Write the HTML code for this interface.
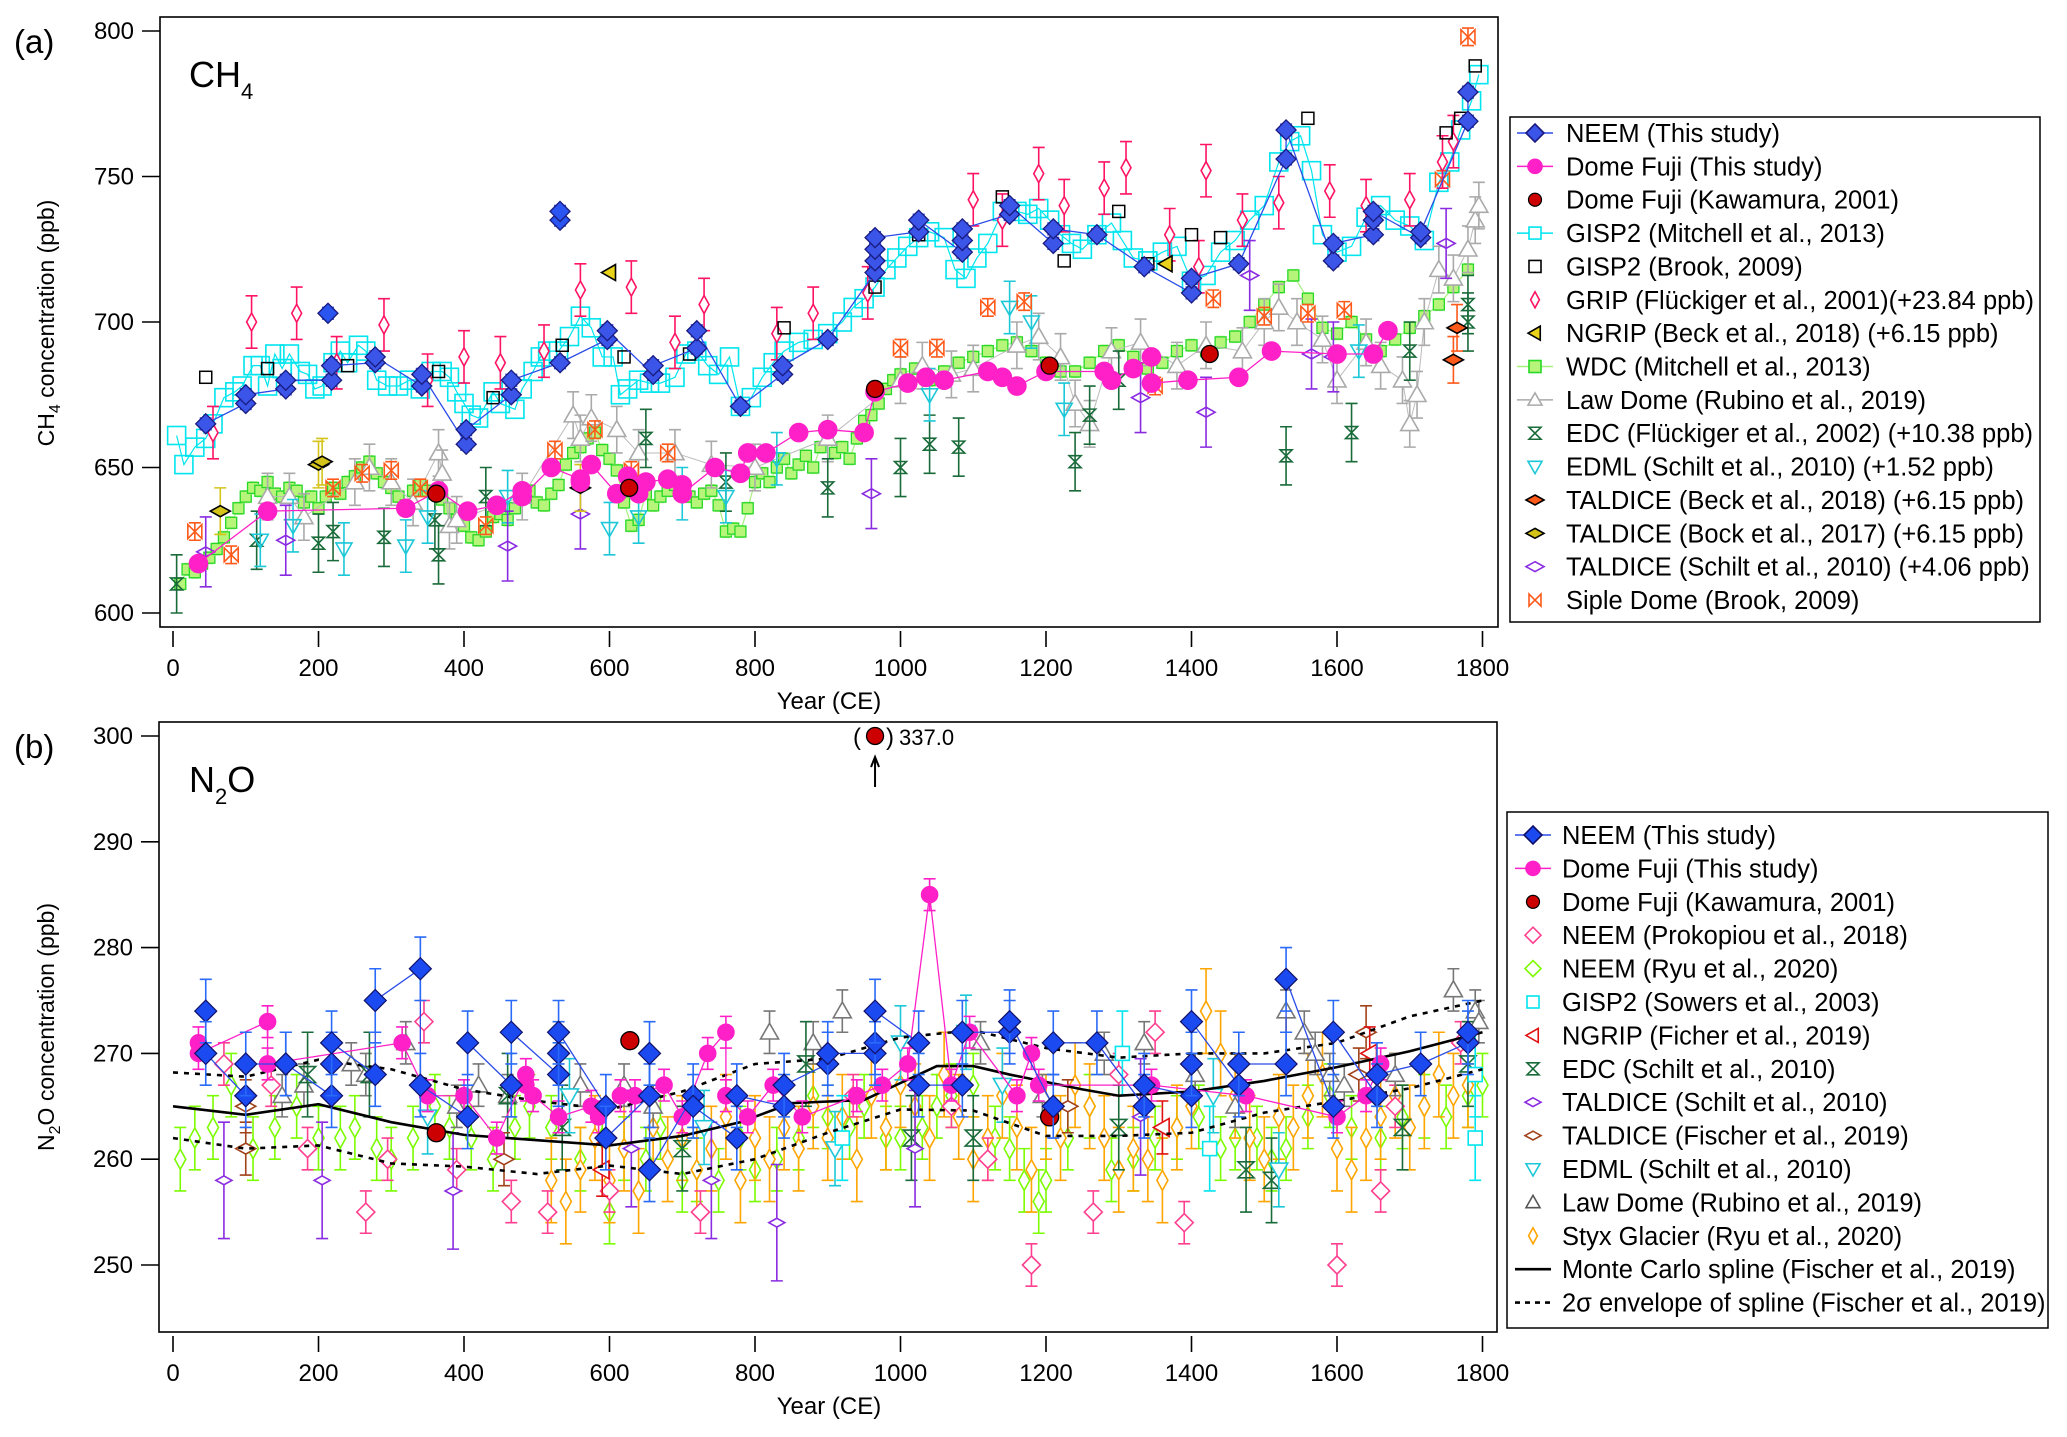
<!DOCTYPE html>
<html><head><meta charset="utf-8"><style>
html,body{margin:0;padding:0;background:#fff}
svg{display:block}
text{font-family:"Liberation Sans",sans-serif;fill:#000}
</style></head><body>
<svg id="fig" width="2067" height="1437" viewBox="0 0 2067 1437" xmlns="http://www.w3.org/2000/svg">
<defs>
<clipPath id="clipA"><rect x="160" y="17" width="1338" height="610"/></clipPath>
<clipPath id="clipB"><rect x="159" y="722" width="1338" height="610"/></clipPath>
</defs>
<g id="layer"></g>
</svg>
<script>
// ---------- Panel (a) CH4 data ----------
const xTicks=[0,200,400,600,800,1000,1200,1400,1600,1800];
const yTicksA=[600,650,700,750,800];
const yTicksB=[250,260,270,280,290,300];

const neemA_x=[45,100,100,155,155,218,218,278,278,342,342,403,403,465,465,532,597,597,660,660,720,720,780,838,838,900,965,965,965,965,1025,1025,1085,1085,1085,1150,1150,1210,1210,1270,1335,1400,1400,1465,1530,1530,1595,1595,1650,1650,1650,1715,1715,1780,1780];
const neemA_y=[665,672,675,677,680,680,685,686,688,678,682,658,663,675,680,686,694,697,682,685,691,697,671,682,685,694,717,721,725,729,731,735,724,728,732,737,740,727,732,730,719,710,715,720,756,766,721,727,730,735,738,729,731,769,779];
const neemA_ix=[213,532,532];
const neemA_iy=[703,735,738];
const dfA_x=[35,130,320,365,405,445,480,480,520,560,560,575,610,625,640,650,680,700,700,745,780,790,815,860,900,950,965,1010,1035,1060,1120,1140,1160,1200,1280,1290,1320,1345,1345,1395,1465,1510,1600,1650,1670];
const dfA_y=[617,635,636,642,635,637,642,640,650,646,645,651,641,647,641,645,646,644,641,650,648,655,655,662,663,662,676,679,681,680,683,681,678,683,683,680,684,688,679,680,681,690,689,689,697];
const kawA_x=[362,627,965,1205,1425];
const kawA_y=[641,643,677,685,689];
const gispM_x=[5,15,30,45,55,70,85,95,110,120,130,140,150,160,175,185,195,205,220,230,240,255,265,280,295,310,325,340,355,370,380,390,400,410,420,440,450,470,480,495,505,515,530,545,560,575,590,605,615,625,640,655,670,690,705,720,735,750,765,780,795,810,825,840,860,880,900,920,935,950,965,980,995,1010,1025,1040,1060,1075,1090,1105,1120,1140,1160,1175,1190,1205,1220,1235,1250,1270,1290,1305,1320,1340,1360,1380,1400,1420,1440,1460,1480,1500,1520,1535,1550,1565,1580,1600,1620,1640,1660,1680,1700,1720,1740,1755,1770,1785,1795];
const gispM_y=[661,651,657,660,665,674,676,678,685,685,678,689,684,689,683,682,677,678,686,690,686,692,690,680,678,678,680,677,683,683,681,676,672,668,667,676,672,670,677,683,688,690,690,695,702,698,688,688,675,677,680,679,679,681,689,690,685,682,688,671,674,681,686,690,693,694,696,700,705,708,712,718,722,726,729,731,729,718,715,722,727,738,738,737,739,735,730,727,725,730,734,728,722,721,724,726,714,716,724,728,735,740,755,762,764,752,730,724,726,736,740,735,733,728,748,755,766,776,785];
const gispB_x=[45,130,240,365,440,535,620,710,840,965,1025,1140,1225,1300,1340,1400,1440,1560,1750,1770,1790];
const gispB_y=[681,684,685,683,674,692,688,689,698,712,730,743,721,738,720,730,729,770,765,770,788];
const grip_x=[55,108,170,225,290,350,400,450,510,560,630,690,730,830,880,955,1100,1140,1190,1225,1280,1310,1370,1410,1420,1470,1520,1590,1640,1700,1745,1760];
const grip_y=[662,700,703,686,699,680,688,686,690,711,712,693,706,696,703,710,742,735,751,740,746,753,730,719,752,735,741,745,740,742,755,762];
const ngrip_x=[600,1365];
const ngrip_y=[717,720];
const wdc_x=[10,20,30,40,50,60,70,80,90,100,110,120,130,140,150,160,170,180,190,200,210,220,230,240,250,260,270,280,290,300,310,320,330,340,350,360,370,380,390,400,410,420,430,440,450,460,470,480,490,500,510,520,530,540,550,560,570,580,590,600,610,620,630,640,650,660,670,680,690,700,710,720,730,740,750,760,770,780,790,800,810,820,830,840,850,860,870,880,890,900,910,920,930,940,950,960,970,980,990,1000,1020,1040,1060,1080,1100,1120,1140,1160,1180,1200,1220,1240,1260,1280,1300,1320,1340,1360,1380,1400,1420,1440,1460,1480,1500,1520,1540,1560,1580,1600,1620,1640,1660,1680,1700,1720,1740,1760,1780];
const wdc_y=[610,615,614,617,619,622,626,631,636,640,643,642,645,641,640,643,642,638,640,636,640,643,641,645,647,650,652,648,645,643,640,637,642,644,642,641,639,636,632,630,626,625,628,633,634,632,636,640,642,638,637,641,644,651,655,657,660,662,656,653,649,638,630,632,641,637,640,642,644,643,640,638,641,642,637,628,629,628,636,645,648,645,650,653,648,651,654,650,657,660,655,657,653,660,666,668,672,677,680,682,684,680,683,686,688,690,692,693,690,686,683,683,686,690,692,688,684,686,690,692,690,693,695,700,706,712,716,708,698,696,700,694,690,694,698,702,706,712,718];
const lawA_x=[130,160,180,250,270,300,330,365,370,380,390,480,550,560,575,610,640,690,740,800,900,1000,1030,1070,1100,1160,1190,1220,1240,1260,1290,1330,1380,1420,1470,1500,1520,1545,1580,1600,1640,1660,1690,1700,1710,1720,1740,1760,1780,1790,1795];
const lawA_y=[640,640,633,645,650,645,638,655,648,630,632,640,668,660,667,663,655,655,651,650,660,680,685,682,684,692,695,688,672,665,690,693,685,692,690,700,705,700,694,680,693,685,680,665,675,700,718,715,725,735,740];
const edcA_x=[5,115,200,220,290,360,365,430,650,760,900,1000,1040,1080,1240,1260,1300,1530,1620,1700,1780,1780];
const edcA_y=[610,625,624,628,626,632,620,640,660,645,643,650,658,657,652,668,680,654,662,690,700,706];
const edml_x=[120,165,235,320,350,460,600,640,700,760,830,1040,1150,1180,1225,1630];
const edml_y=[625,630,622,623,633,640,629,633,641,640,653,675,705,700,670,690];
const talBeck_x=[1760,1765];
const talBeck_y=[687,698];
const talBock_x=[65,200,205,560];
const talBock_y=[635,651,652,643];
const talSchA_x=[45,155,460,560,960,1330,1420,1480,1565,1595,1750];
const talSchA_y=[621,625,623,634,641,674,669,716,689,688,727];
const siple_x=[30,80,220,260,300,340,430,525,580,630,680,1000,1050,1120,1170,1350,1430,1500,1560,1610,1745,1780];
const siple_y=[628,620,643,648,649,643,630,656,663,649,655,691,691,705,707,678,708,702,703,704,749,798];

// ---------- Panel (b) N2O data ----------
const neemB_x=[45,45,100,100,155,155,218,218,218,278,278,340,340,405,405,465,465,530,530,530,595,595,655,655,655,715,715,775,775,840,840,900,900,965,965,965,1025,1025,1085,1085,1150,1150,1210,1210,1270,1335,1335,1400,1400,1400,1465,1465,1530,1530,1595,1595,1655,1655,1715,1780,1780];
const neemB_y=[274,270,266,269,269,269,266,269,271,268,275,278,267,264,271,267,272,268,270,272,265,262,266,270,259,266,265,262,266,265,267,269,270,270,271,274,271,267,267,272,272,273,265,271,271,265,267,266,269,273,267,269,269,277,265,272,266,268,269,271,272];
const dfB_x=[35,35,130,130,315,350,400,445,485,485,495,530,575,585,615,635,675,700,735,760,760,790,825,865,940,975,1010,1040,1070,1095,1160,1180,1190,1345,1475,1600,1640,1660];
const dfB_y=[271,270,273,269,271,266,266,262,268,267,266,264,265,264,266,266,267,264,270,272,266,264,267,264,266,267,269,285,267,272,266,270,267,267,266,264,266,269];
const kawB_x=[362,628,1205];
const kawB_y=[262.5,271.2,264];
const kawOut_x=[965];
const kawOut_v=[337.0];
const prok_x=[70,135,185,265,295,345,390,465,515,600,725,935,1070,1120,1180,1265,1300,1350,1390,1600,1660,1680,1770];
const prok_y=[269,267,261,255,260,273,259,256,255,257,255,266,265,260,250,255,268,272,254,250,257,265,271];
const ryu_x=[10,30,55,80,110,140,170,200,230,250,280,300,330,360,380,410,440,470,490,520,560,590,600,620,650,670,700,720,750,780,800,830,860,880,900,930,950,980,1000,1030,1050,1070,1100,1130,1150,1170,1190,1200,1230,1260,1290,1320,1350,1380,1410,1440,1460,1490,1510,1530,1560,1590,1620,1660,1690,1720,1750,1780,1800];
const ryu_y=[260,262,263,267,261,263,265,262,262,263,261,260,262,265,263,262,260,263,265,263,260,262,255,261,260,263,258,259,258,262,259,260,262,266,264,263,265,262,262,263,265,266,267,262,261,258,256,258,262,265,259,260,262,263,264,261,262,262,260,261,264,266,263,262,264,265,264,266,267];
const styx_x=[520,540,560,580,600,620,640,660,680,700,720,740,760,780,800,820,840,860,880,900,920,940,960,980,1000,1020,1040,1060,1080,1100,1120,1140,1160,1180,1200,1220,1240,1260,1280,1300,1320,1340,1360,1380,1400,1420,1440,1460,1480,1500,1520,1540,1560,1580,1600,1620,1640,1660,1680,1700,1720,1740,1760,1780];
const styx_y=[258,256,259,262,258,261,257,263,260,262,259,261,264,258,262,260,263,261,265,262,264,260,266,263,267,265,262,268,264,260,262,266,263,259,264,262,267,265,262,259,261,260,258,263,265,274,270,266,262,260,264,263,266,268,261,259,262,264,266,263,265,268,266,267];
const gispB2_x=[920,1305,1425,1790,1790];
const gispB2_y=[262,270,261,262,268];
const ngripB_x=[590,1360,1645];
const ngripB_y=[259,263,270];
const edcB_x=[185,270,460,535,700,870,1015,1100,1300,1475,1510,1690,1780];
const edcB_y=[268,268,266,263,261,269,262,262,263,259,258,263,269];
const talSchB_x=[70,205,385,630,740,830,1020,1330];
const talSchB_y=[258,258,257,261,258,254,261,264];
const talFis_x=[100,100,455,1230,1630,1640];
const talFis_y=[265,261,260,265,268,272];
const edmlB_x=[350,545,730,910,1000,1090,1140,1430,1520];
const edmlB_y=[264,266,263,261,271,272,267,266,259];
const lawB_x=[150,180,245,265,320,390,420,460,560,620,660,820,880,920,1110,1195,1280,1335,1405,1460,1530,1555,1570,1590,1610,1680,1760,1790,1795];
const lawB_y=[266,267,269,268,271,265,267,266,267,267,265,272,271,274,271,266,270,271,268,265,274,272,270,268,267,268,276,274,273];
const spl_x=[0,100,200,300,400,500,600,700,780,850,950,1050,1100,1150,1250,1300,1400,1500,1600,1700,1800];
const spl_y=[265,264.2,265.2,263.5,262.3,261.8,261.3,262.2,263.5,265.3,265.6,268.8,268.8,268,266.6,266,266.4,267.4,268.7,270.2,272];
const env_x=[0,100,200,300,400,500,600,700,800,900,1000,1100,1200,1300,1400,1500,1600,1700,1800];
const envUp_y=[268.2,267.8,269.4,268.5,266.6,265.5,264.7,266.4,269,269.5,271.5,272.2,270.5,269.6,270,270,271,273.5,275];
const envLo_y=[262,261,261.3,259.6,259.3,258.6,259.4,258.6,260,262.5,264.7,264.6,262.2,262.2,262.5,264.4,265.5,266.7,268.5];

// ---------- axes ----------
const XA=yr=>173+yr*0.7275;
const YA=v=>613-(v-600)*2.91;
const YB=v=>1265-(v-250)*10.58;
const NS='http://www.w3.org/2000/svg';
const root=document.getElementById('layer');
function el(tag,attrs,parent,txt){const e=document.createElementNS(NS,tag);for(const k in attrs)e.setAttribute(k,attrs[k]);if(txt!==undefined)e.textContent=txt;(parent||root).appendChild(e);return e;}

function marker(g,type,cx,cy,s,fill,stroke,sw){
  let p;
  if(type==='circle'){return el('circle',{cx:cx,cy:cy,r:s,fill:fill,stroke:stroke,'stroke-width':sw},g);}
  if(type==='square'){return el('rect',{x:cx-s,y:cy-s,width:2*s,height:2*s,fill:fill,stroke:stroke,'stroke-width':sw},g);}
  if(type==='diamond')p=[[cx,cy-s],[cx+s,cy],[cx,cy+s],[cx-s,cy]];
  if(type==='thindiamond')p=[[cx,cy-s],[cx+s*0.55,cy],[cx,cy+s],[cx-s*0.55,cy]];
  if(type==='flatdiamond')p=[[cx,cy-s*0.55],[cx+s,cy],[cx,cy+s*0.55],[cx-s,cy]];
  if(type==='triUp')p=[[cx,cy-s],[cx+s,cy+s*0.75],[cx-s,cy+s*0.75]];
  if(type==='triDown')p=[[cx,cy+s],[cx+s,cy-s*0.75],[cx-s,cy-s*0.75]];
  if(type==='triLeft')p=[[cx-s,cy],[cx+s*0.75,cy-s],[cx+s*0.75,cy+s]];
  if(type==='hourglass')p=[[cx-s,cy-s],[cx+s,cy-s],[cx-s,cy+s],[cx+s,cy+s]];
  if(type==='bowtie')p=[[cx-s,cy-s],[cx+s,cy+s],[cx+s,cy-s],[cx-s,cy+s]];
  return el('polygon',{points:p.map(q=>q.join(',')).join(' '),fill:fill,stroke:stroke,'stroke-width':sw,'stroke-linejoin':'miter'},g);
}

function series(parent,name,xs,ys,X,Y,o){
  const g=el('g',{},parent);
  
  
  const n=Math.min(xs.length,ys.length);
  if(o.line){
    const pts=[];for(let i=0;i<n;i++)pts.push(X(xs[i])+','+Y(ys[i]));
    const pl=el('polyline',{points:pts.join(' '),fill:'none',stroke:o.line,'stroke-width':o.lw||1.5,'stroke-dasharray':o.dash||'none'},g);
    
    
  }
  if(!o.type)return g;
  for(let i=0;i<n;i++){
    const cx=X(xs[i]),cy=Y(ys[i]);
    if(o.err){
      const y1=Y(ys[i]+o.err),y2=Y(ys[i]-o.err),c=o.cap||6;
      el('path',{d:`M${cx},${y1}V${y2}M${cx-c},${y1}H${cx+c}M${cx-c},${y2}H${cx+c}`,stroke:o.ec||o.stroke,'stroke-width':1.6,fill:'none'},g);
    }
    const m=marker(g,o.type,cx,cy,o.s,o.fill,o.stroke,o.sw||1.6);
    
    
  }
  return g;
}

function axes(panelName,top,bot,left,right,yt,Y,ylab,ylabY,tag,gas,sub,gasRest,ytitle){
  const g=el('g',{});
  
  
  el('rect',{x:left,y:top,width:right-left,height:bot-top,fill:'none',stroke:'#000','stroke-width':1.6},g);
  xTicks.forEach(t=>{
    const x=XA(t);
    el('line',{x1:x,x2:x,y1:bot+4,y2:bot+20,stroke:'#000','stroke-width':1.6},g);
    const tx=el('text',{x:x,y:bot+49,'font-size':24,'text-anchor':'middle'},g,String(t));
    
    
  });
  yt.forEach(t=>{
    const y=Y(t);
    el('line',{x1:left-18,x2:left,y1:y,y2:y,stroke:'#000','stroke-width':1.6},g);
    const tx=el('text',{x:left-26,y:y+8,'font-size':24,'text-anchor':'end'},g,String(t));
    
    
  });
  const xt=el('text',{x:829,y:bot+82,'font-size':24,'text-anchor':'middle'},g,'Year (CE)');
  
  
  const yt2=el('text',{x:0,y:0,'font-size':23,'text-anchor':'middle',transform:`translate(54,${ylabY}) rotate(-90)`},g);
  
  
  yt2.innerHTML=ytitle;
  const pt=el('text',{x:14,y:top+36,'font-size':33},g,tag);
  
  
  const gl=el('text',{x:189,y:top+70,'font-size':36},g);
  
  
  gl.innerHTML=gas+'<tspan font-size="22" dy="12">'+sub+'</tspan><tspan dy="-12">'+gasRest+'</tspan>';
}

// ---------- Panel A ----------
axes('panel-a',17,627,160,1498,yTicksA,YA,null,323,'(a)','CH','4','','CH<tspan font-size="16" dy="6">4</tspan><tspan dy="-6"> concentration (ppb)</tspan>');
const pa=el('g',{'clip-path':'url(#clipA)'});


series(pa,'gisp2-mitchell',gispM_x,gispM_y,XA,YA,{line:'#00e5ee',lw:1.2,type:'square',s:9,fill:'none',stroke:'#00e5ee'});
series(pa,'wdc',wdc_x,wdc_y,XA,YA,{line:'#a8f080',lw:1.2,type:'square',s:5.5,fill:'#b7f57a',stroke:'#27d827',sw:1.3,err:2,ec:'#b0f090',cap:4});
series(pa,'law-dome',lawA_x,lawA_y,XA,YA,{line:'#bbbbbb',lw:1,type:'triUp',s:9,fill:'#fff',stroke:'#aaaaaa',err:8,ec:'#aaaaaa'});
series(pa,'edc',edcA_x,edcA_y,XA,YA,{type:'hourglass',s:6,fill:'none',stroke:'#1a6b3a',err:10,ec:'#1a6b3a'});
series(pa,'edml',edml_x,edml_y,XA,YA,{type:'triDown',s:8,fill:'none',stroke:'#1cc8d8',err:9,ec:'#1cc8d8'});
series(pa,'taldice-schilt',talSchA_x,talSchA_y,XA,YA,{type:'flatdiamond',s:9,fill:'none',stroke:'#8a2be2',err:12,ec:'#8a2be2'});
series(pa,'siple-dome',siple_x,siple_y,XA,YA,{type:'bowtie',s:7,fill:'none',stroke:'#ff5a1a',err:3,ec:'#ff5a1a'});
series(pa,'grip',grip_x,grip_y,XA,YA,{type:'thindiamond',s:9,fill:'#fff',stroke:'#ff1464',err:9,ec:'#ff1464'});
series(pa,'gisp2-brook',gispB_x,gispB_y,XA,YA,{type:'square',s:6,fill:'none',stroke:'#000',sw:1.5});
series(pa,'ngrip',ngrip_x,ngrip_y,XA,YA,{type:'triLeft',s:8,fill:'#e8d21a',stroke:'#000'});
series(pa,'taldice-bock',talBock_x,talBock_y,XA,YA,{type:'flatdiamond',s:10,fill:'#d4c41a',stroke:'#000',err:8,ec:'#d4c41a'});
series(pa,'taldice-beck',talBeck_x,talBeck_y,XA,YA,{type:'flatdiamond',s:10,fill:'#ff5a1a',stroke:'#000',err:8,ec:'#ff5a1a'});
series(pa,'dome-fuji-this-study',dfA_x,dfA_y,XA,YA,{line:'#ff20c8',lw:1.3,type:'circle',s:9,fill:'#ff20c8',stroke:'#ff20c8',err:2,ec:'#ff20c8'});
series(pa,'dome-fuji-kawamura',kawA_x,kawA_y,XA,YA,{type:'circle',s:8.5,fill:'#cc0000',stroke:'#000',sw:1.3});
series(pa,'neem-this-study',neemA_x,neemA_y,XA,YA,{line:'#2a4be8',lw:1.3,type:'diamond',s:10,fill:'#3a55e8',stroke:'#1a1a80',sw:1.3,err:2,ec:'#2a4be8'});
series(pa,'neem-this-study-extra',neemA_ix,neemA_iy,XA,YA,{type:'diamond',s:10,fill:'#2a55f0',stroke:'#1a1a80',sw:1.3,err:2,ec:'#2a4be8'});

// ---------- Panel B ----------
axes('panel-b',722,1332,159,1497,yTicksB,YB,null,1027,'(b)','N','2','O','N<tspan font-size="16" dy="6">2</tspan><tspan dy="-6">O concentration (ppb)</tspan>');
const pb=el('g',{'clip-path':'url(#clipB)'});


series(pb,'neem-ryu',ryu_x,ryu_y,XA,YB,{type:'thindiamond',s:10,fill:'#fff',stroke:'#7cfc00',err:3,ec:'#7cfc00'});
series(pb,'styx-glacier',styx_x,styx_y,XA,YB,{type:'thindiamond',s:10,fill:'#fff',stroke:'#ffa500',err:4,ec:'#ffa500'});
series(pb,'neem-prokopiou',prok_x,prok_y,XA,YB,{type:'diamond',s:9,fill:'#fff',stroke:'#ff3f8f',err:2,ec:'#ff3f8f'});
series(pb,'law-dome-b',lawB_x,lawB_y,XA,YB,{type:'triUp',s:9,fill:'#fff',stroke:'#777',err:2,ec:'#777'});
series(pb,'edc-b',edcB_x,edcB_y,XA,YB,{type:'hourglass',s:8,fill:'none',stroke:'#1a6b3a',err:4,ec:'#1a6b3a'});
series(pb,'taldice-schilt-b',talSchB_x,talSchB_y,XA,YB,{type:'flatdiamond',s:8,fill:'#fff',stroke:'#8a2be2',err:5.5,ec:'#8a2be2'});
series(pb,'taldice-fischer',talFis_x,talFis_y,XA,YB,{type:'flatdiamond',s:10,fill:'#fff',stroke:'#a0421a',err:2.5,ec:'#a0421a'});
series(pb,'edml-b',edmlB_x,edmlB_y,XA,YB,{type:'triDown',s:9,fill:'#fff',stroke:'#1cc8d8',err:3.5,ec:'#1cc8d8'});
series(pb,'gisp2-sowers',gispB2_x,gispB2_y,XA,YB,{type:'square',s:7,fill:'#fff',stroke:'#00e5ee',err:4,ec:'#00e5ee'});
series(pb,'ngrip-b',ngripB_x,ngripB_y,XA,YB,{type:'triLeft',s:9,fill:'#fff',stroke:'#e01010',err:2.5,ec:'#e01010'});
series(pb,'spline-envelope-upper',env_x,envUp_y,XA,YB,{line:'#000',lw:2.6,dash:'5,6'});
series(pb,'spline-envelope-lower',env_x,envLo_y,XA,YB,{line:'#000',lw:2.6,dash:'5,6'});
series(pb,'monte-carlo-spline',spl_x,spl_y,XA,YB,{line:'#000',lw:2.6});
series(pb,'dome-fuji-this-study-b',dfB_x,dfB_y,XA,YB,{line:'#ff20c8',lw:1.3,type:'circle',s:8,fill:'#ff20c8',stroke:'#ff20c8',err:1.5,ec:'#ff20c8'});
series(pb,'dome-fuji-kawamura-b',kawB_x,kawB_y,XA,YB,{type:'circle',s:9,fill:'#cc0000',stroke:'#000',sw:1.3});
series(pb,'neem-this-study-b',neemB_x,neemB_y,XA,YB,{line:'#2a4be8',lw:1.3,type:'diamond',s:11,fill:'#1a4af0',stroke:'#10106a',sw:1.2,err:3,ec:'#2a6af8'});

// out-of-range annotation
const ox=XA(kawOut_x[0]), oy=YB(300);
const ann=el('g',{});


el('text',{x:ox-22,y:oy+9,'font-size':24},ann,'(');
marker(ann,'circle',ox,oy,8.5,'#cc0000','#000',1.3);
el('text',{x:ox+11,y:oy+9,'font-size':24},ann,')');
el('text',{x:ox+24,y:oy+9,'font-size':22},ann,kawOut_v[0].toFixed(1));
el('path',{d:`M${ox},${oy+51}V${oy+22}M${ox-4},${oy+31}L${ox},${oy+21}L${ox+4},${oy+31}`,stroke:'#000','stroke-width':2,fill:'none'},ann);

// ---------- legends ----------
function legend(name,x0,y0,w,h,rows,symX,txtX,r0,dy){
  const g=el('g',{});
  
  
  el('rect',{x:x0,y:y0,width:w,height:h,fill:'#fff',stroke:'#000','stroke-width':1.5},g);
  rows.forEach((r,i)=>{
    const y=r0+i*dy;
    const eg=el('g',{},g);
    
    
    if(r.line)el('line',{x1:symX-18,x2:symX+18,y1:y,y2:y,stroke:r.line,'stroke-width':r.lw||1.5,'stroke-dasharray':r.dash||'none'},eg);
    if(r.type)marker(eg,r.type,symX,y,r.s,r.fill,r.stroke,r.sw||1.6);
    el('text',{x:txtX,y:y+9,'font-size':25.5},eg,r.label);
  });
}
legend('legend-ch4',1510,117,530,505,[
 {label:'NEEM (This study)',line:'#2a4be8',type:'diamond',s:9,fill:'#3a55e8',stroke:'#1a1a80'},
 {label:'Dome Fuji (This study)',line:'#ff20c8',type:'circle',s:7,fill:'#ff20c8',stroke:'#ff20c8'},
 {label:'Dome Fuji (Kawamura, 2001)',type:'circle',s:6.5,fill:'#cc0000',stroke:'#000',sw:1.2},
 {label:'GISP2 (Mitchell et al., 2013)',line:'#00e5ee',type:'square',s:6,fill:'#fff',stroke:'#00e5ee'},
 {label:'GISP2 (Brook, 2009)',type:'square',s:6,fill:'#fff',stroke:'#000'},
 {label:'GRIP (Flückiger et al., 2001)(+23.84 ppb)',type:'thindiamond',s:8,fill:'#fff',stroke:'#ff1464'},
 {label:'NGRIP (Beck et al., 2018) (+6.15 ppb)',type:'triLeft',s:7,fill:'#e8d21a',stroke:'#000'},
 {label:'WDC (Mitchell et al., 2013)',line:'#a8f080',type:'square',s:6,fill:'#b7f57a',stroke:'#27d827'},
 {label:'Law Dome (Rubino et al., 2019)',line:'#aaaaaa',type:'triUp',s:7,fill:'#fff',stroke:'#aaaaaa'},
 {label:'EDC (Flückiger et al., 2002) (+10.38 ppb)',type:'hourglass',s:6,fill:'none',stroke:'#1a6b3a'},
 {label:'EDML (Schilt et al., 2010) (+1.52 ppb)',type:'triDown',s:7,fill:'#fff',stroke:'#1cc8d8'},
 {label:'TALDICE (Beck et al., 2018) (+6.15 ppb)',type:'flatdiamond',s:9,fill:'#ff5a1a',stroke:'#000'},
 {label:'TALDICE (Bock et al., 2017) (+6.15 ppb)',type:'flatdiamond',s:9,fill:'#d4c41a',stroke:'#000'},
 {label:'TALDICE (Schilt et al., 2010) (+4.06 ppb)',type:'flatdiamond',s:9,fill:'#fff',stroke:'#8a2be2'},
 {label:'Siple Dome (Brook, 2009)',type:'bowtie',s:6,fill:'none',stroke:'#ff5a1a'}
],1535,1566,133,33.36);
legend('legend-n2o',1507,812,541,516,[
 {label:'NEEM (This study)',line:'#2a4be8',type:'diamond',s:9,fill:'#1a4af0',stroke:'#10106a'},
 {label:'Dome Fuji (This study)',line:'#ff20c8',type:'circle',s:7,fill:'#ff20c8',stroke:'#ff20c8'},
 {label:'Dome Fuji (Kawamura, 2001)',type:'circle',s:6.5,fill:'#cc0000',stroke:'#000',sw:1.2},
 {label:'NEEM (Prokopiou et al., 2018)',type:'diamond',s:8,fill:'#fff',stroke:'#ff3f8f'},
 {label:'NEEM (Ryu et al., 2020)',type:'diamond',s:8,fill:'#fff',stroke:'#7cfc00'},
 {label:'GISP2 (Sowers et al., 2003)',type:'square',s:6,fill:'#fff',stroke:'#00e5ee'},
 {label:'NGRIP (Ficher et al., 2019)',type:'triLeft',s:7,fill:'#fff',stroke:'#e01010'},
 {label:'EDC (Schilt et al., 2010)',type:'hourglass',s:6,fill:'none',stroke:'#1a6b3a'},
 {label:'TALDICE (Schilt et al., 2010)',type:'flatdiamond',s:8,fill:'#fff',stroke:'#8a2be2'},
 {label:'TALDICE (Fischer et al., 2019)',type:'flatdiamond',s:8,fill:'#fff',stroke:'#a0421a'},
 {label:'EDML (Schilt et al., 2010)',type:'triDown',s:7,fill:'#fff',stroke:'#1cc8d8'},
 {label:'Law Dome (Rubino et al., 2019)',type:'triUp',s:7,fill:'#fff',stroke:'#555'},
 {label:'Styx Glacier (Ryu et al., 2020)',type:'thindiamond',s:8,fill:'#fff',stroke:'#ffa500'},
 {label:'Monte Carlo spline (Fischer et al., 2019)',line:'#000',lw:2.6},
 {label:'2σ envelope of spline (Fischer et al., 2019)',line:'#000',lw:2.6,dash:'5,5'}
],1533,1562,835,33.4);
</script>
</body></html>
